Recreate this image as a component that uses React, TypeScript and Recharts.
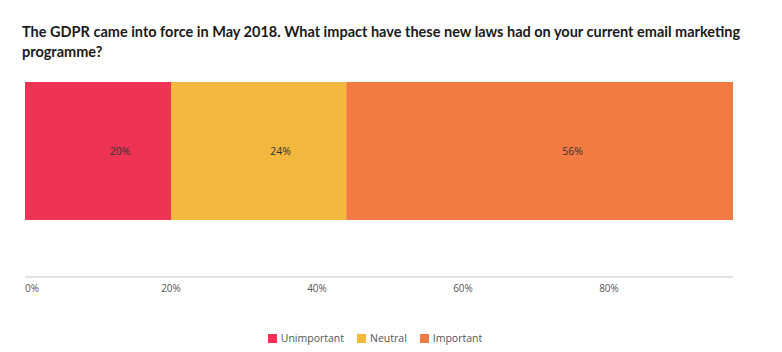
import { Bar, BarChart, LabelList, XAxis, YAxis } from 'recharts'

const categories = ['Impact']
const seriesNames = ['Unimportant', 'Neutral', 'Important']
const seriesValues = [20, 24, 56]
const seriesColors = ['#ee3354', '#f4b83e', '#f17b42']
const xTicks = [0, 20, 40, 60, 80, 100]

const data = categories.map((name) => {
  const row: Record<string, string | number> = { name }
  seriesNames.forEach((s, i) => {
    row[s] = seriesValues[i]
  })
  return row
})

function AxisTick(props: any) {
  const { x, y, payload, index } = props
  return (
    <text
      x={x}
      y={y + 7}
      textAnchor={index === 0 ? 'start' : 'middle'}
      fontSize={10}
      fill="#555"
      fontFamily="'Open Sans', sans-serif"
    >
      {`${payload.value}%`}
    </text>
  )
}

function BarValue(props: any) {
  const { x, y, width, height, value } = props
  return (
    <text
      x={x + width / 2 + 22}
      y={y + height / 2}
      dy={4}
      textAnchor="middle"
      fontSize={10.5}
      fill="#333"
      fontFamily="'Open Sans', sans-serif"
    >
      {`${value}%`}
    </text>
  )
}

export default function App() {
  return (
    <div style={{ position: 'absolute', left: 0, top: 0, width: 782, height: 352, background: '#fff' }}>
      <div
        style={{
          position: 'absolute',
          left: 22,
          top: 22,
          width: 750,
          fontFamily: 'Lato, sans-serif',
          fontWeight: 700,
          fontSize: 14.5,
          lineHeight: '20px',
          color: '#1a1a1a',
        }}
      >
        The GDPR came into force in May 2018. What impact have these new laws had on your current email marketing
        programme?
      </div>
      <div style={{ position: 'absolute', left: 0, top: 0, width: 733, height: 352, overflow: 'hidden' }}>
        <BarChart
          width={782}
          height={352}
          data={data}
          layout="vertical"
          barCategoryGap={0}
          margin={{ top: 82, right: 27, bottom: 45, left: 25 }}
        >
          <XAxis
            type="number"
            domain={[0, 100]}
            ticks={xTicks}
            interval={0}
            tickLine={false}
            axisLine={{ stroke: '#e3e3e3', strokeWidth: 2 }}
            tick={<AxisTick />}
            height={30}
          />
          <YAxis type="category" dataKey="name" hide padding={{ top: 0, bottom: 57 }} />
          {seriesNames.map((s, i) => (
            <Bar key={s} dataKey={s} stackId="a" fill={seriesColors[i]} isAnimationActive={false}>
              <LabelList dataKey={s} content={<BarValue />} />
            </Bar>
          ))}
        </BarChart>
      </div>
      <div
        style={{
          position: 'absolute',
          left: 0,
          top: 331,
          width: 750,
          display: 'flex',
          justifyContent: 'center',
          gap: 13,
          fontFamily: "'Open Sans', sans-serif",
          fontSize: 10.5,
          color: '#555',
        }}
      >
        {seriesNames.map((s, i) => (
          <span key={s} style={{ display: 'flex', alignItems: 'center', gap: 4 }}>
            <span style={{ width: 9, height: 9, background: seriesColors[i], display: 'inline-block' }} />
            {s}
          </span>
        ))}
      </div>
    </div>
  )
}
